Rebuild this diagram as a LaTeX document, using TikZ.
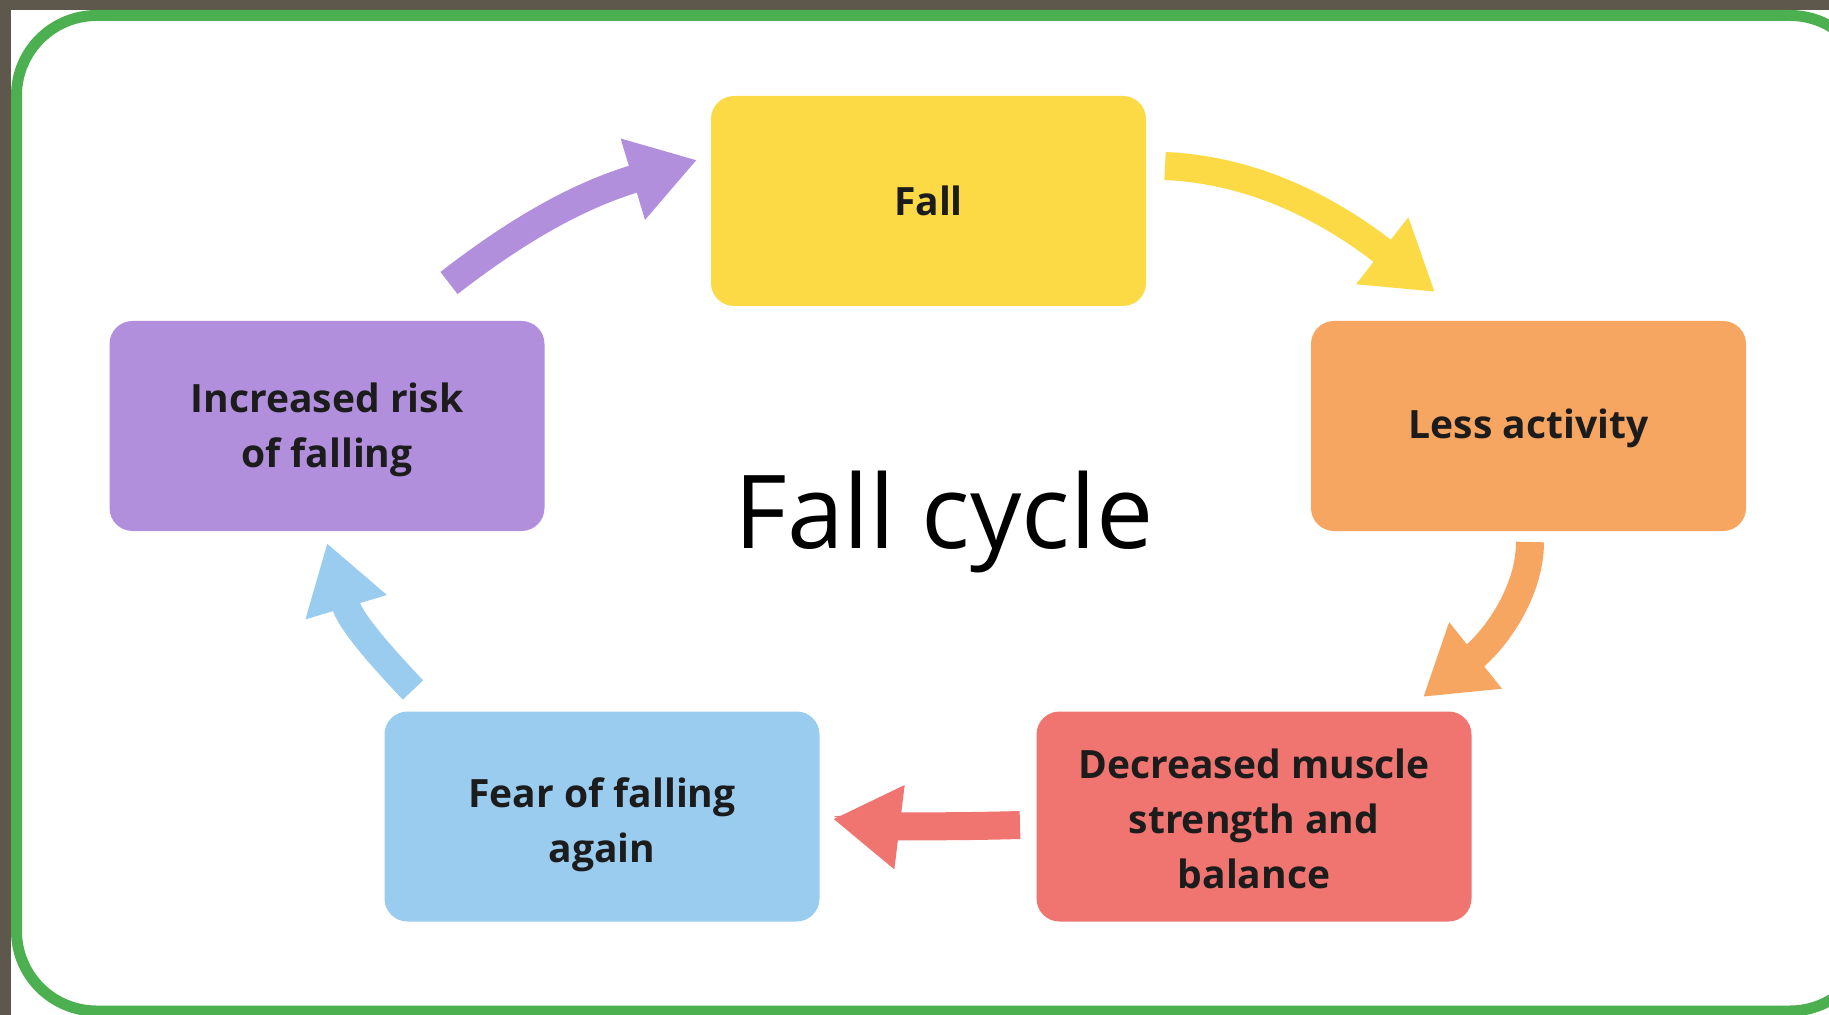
\documentclass[tikz,border=0pt]{standalone}
\usepackage{fontspec}
\setmainfont{Open Sans}
\usetikzlibrary{arrows.meta}
\definecolor{bgdark}{RGB}{94,88,76}
\definecolor{framegreen}{RGB}{76,175,80}
\definecolor{cyellow}{RGB}{252,218,69}
\definecolor{corange}{RGB}{247,166,98}
\definecolor{cpurple}{RGB}{178,143,221}
\definecolor{cblue}{RGB}{154,204,240}
\definecolor{cred}{RGB}{240,116,112}
\definecolor{ink}{RGB}{28,28,28}
\begin{document}
\begin{tikzpicture}[x=0.5pt,y=-0.5pt,
  stepbox/.style={rounded corners=11.5pt, minimum width=217.5pt, minimum height=105pt, inner sep=0pt},
  boxtext/.style={align=center, text=ink, inner sep=0pt,
    font=\fontsize{19.5pt}{27.5pt}\selectfont\bfseries},
  cyc/.style={line width=14pt, -{Triangle[length=33.5pt,width=40pt]}}]
\useasboundingbox (0,0) rectangle (1829,1015);
\clip (0,0) rectangle (1829,1015);
\fill[white] (0,0) rectangle (1829,1015);
\fill[bgdark] (0,0) rectangle (1829,10);
\fill[bgdark] (0,0) rectangle (11,1015);
\draw[framegreen, line width=5.5pt, rounded corners=40pt] (16.5,15.5) rectangle (1870,1011);

\node[stepbox, fill=cyellow] (fall) at (928.5,201) {};
\node[stepbox, fill=corange] (less) at (1528.5,426) {};
\node[stepbox, fill=cred] (muscle) at (1254,816.5) {};
\node[stepbox, fill=cblue] (fear) at (602,816.5) {};
\node[stepbox, fill=cpurple] (risk) at (327,426) {};

\node[boxtext] (falltext) at (928.5,201) {Fall};
\node[boxtext] (lesstext) at (1528.5,428.5) {Less activity};
\node[boxtext] (muscletext) at (1254,819) {Decreased muscle\\strength and\\balance};
\node[boxtext] (feartext) at (602,824.5) {Fear of falling\\again};
\node[boxtext] (risktext) at (327,429.5) {Increased risk\\of falling};
\node[anchor=base, text=black, font=\fontsize{51pt}{60pt}\selectfont] (title) at (944,548) {Fall cycle};

\coordinate (y1) at (1165,166);  \coordinate (y2) at (1435,292);
\coordinate (o1) at (1530,542);  \coordinate (o2) at (1423,697);
\coordinate (r1) at (1020,825);  \coordinate (r2) at (833,819);
\coordinate (b1) at (413,690);   \coordinate (b2) at (327,543);
\coordinate (p1) at (449,283);   \coordinate (p2) at (697,160);

\draw[cyc, cyellow] (y1) .. controls (1255,170) and (1330,210) .. (y2);
\draw[cyc, corange] (o1) .. controls (1530,592) and (1495,640) .. (o2);
\draw[cyc, cred] (r1) .. controls (950,827) and (890,826) .. (r2);
\draw[cyc, cblue] (b1) .. controls (375,650) and (350,620) .. (b2);
\draw[cyc, cpurple] (p1) .. controls (520,228) and (580,195) .. (p2);
\end{tikzpicture}
\end{document}
